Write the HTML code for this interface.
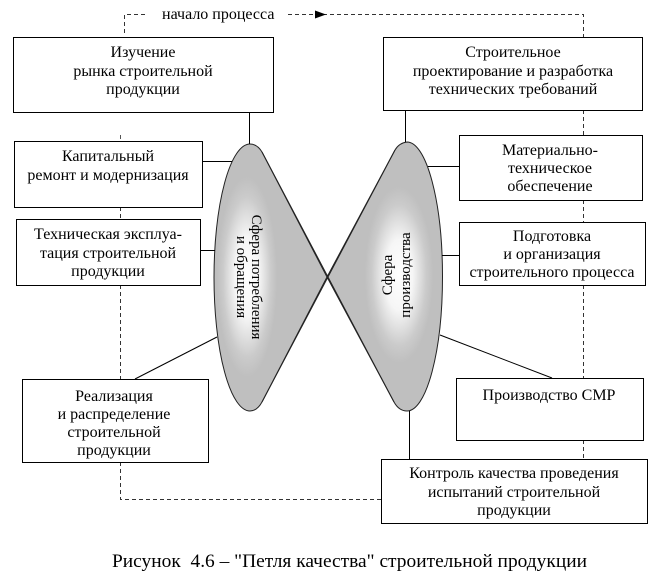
<!DOCTYPE html>
<html>
<head>
<meta charset="utf-8">
<style>
  html, body { margin:0; padding:0; background:#fff; }
  svg { display:block; }
  svg text { font-family: "Liberation Serif", "Times New Roman", "DejaVu Serif", "Noto Serif CJK SC", serif; fill:#000; }
</style>
</head>
<body>
<svg width="667" height="583" viewBox="0 0 667 583" xmlns="http://www.w3.org/2000/svg" font-family="'Liberation Serif', 'Times New Roman', 'DejaVu Serif', 'Noto Serif CJK SC', serif">
  <defs>
    <radialGradient id="gL" gradientUnits="userSpaceOnUse" cx="0" cy="0" r="1" gradientTransform="translate(247 277) scale(30 100)">
      <stop offset="0" stop-color="#ffffff"/>
      <stop offset="0.4" stop-color="#f6f6f6"/>
      <stop offset="0.8" stop-color="#cbcbcb"/>
      <stop offset="1" stop-color="#bfbfbf"/>
    </radialGradient>
    <radialGradient id="gR" gradientUnits="userSpaceOnUse" cx="0" cy="0" r="1" gradientTransform="translate(399 275) scale(34 88)">
      <stop offset="0" stop-color="#ffffff"/>
      <stop offset="0.4" stop-color="#f6f6f6"/>
      <stop offset="0.8" stop-color="#cbcbcb"/>
      <stop offset="1" stop-color="#bfbfbf"/>
    </radialGradient>
  </defs>

  <!-- Shapes -->
  <path d="M 250 144 Q 257 144 262 152 L 327 277 L 262 402 Q 257 411 250 411 A 36 133.5 0 0 1 250 144 Z"
        fill="url(#gL)" stroke="#222" stroke-width="1"/>
  <path d="M 407 142 Q 399 143 395 150 L 327 277 L 394 402 Q 399 411 407 411 A 35.5 134.5 0 0 0 407 142 Z"
        fill="url(#gR)" stroke="#222" stroke-width="1"/>
  <line x1="262" y1="152" x2="394" y2="402" stroke="#222" stroke-width="1"/>
  <line x1="395" y1="150" x2="262" y2="402" stroke="#222" stroke-width="1"/>

  <!-- Rotated labels -->
  <text transform="translate(252 277) rotate(90)" text-anchor="middle" font-size="15">Сфера потребления</text>
  <text transform="translate(237 277) rotate(90)" text-anchor="middle" font-size="15">и обращения</text>
  <text transform="translate(392 275) rotate(-90)" text-anchor="middle" font-size="15">Сфера</text>
  <text transform="translate(410 275) rotate(-90)" text-anchor="middle" font-size="15">производства</text>

  <!-- Dashed lines -->
  <g stroke="#333" stroke-width="1" stroke-dasharray="4 3" fill="none">
    <polyline points="124.5,33 124.5,14.5 147,14.5"/>
    <polyline points="288,14.5 583.5,14.5 583.5,37"/>
    <line x1="583.5" y1="110" x2="583.5" y2="135"/>
    <line x1="583.5" y1="200" x2="583.5" y2="222"/>
    <line x1="583.5" y1="285" x2="583.5" y2="378"/>
    <line x1="583.5" y1="440" x2="583.5" y2="459"/>
    <line x1="120.5" y1="207" x2="120.5" y2="219"/>
    <line x1="120.5" y1="285" x2="120.5" y2="379"/>
    <polyline points="120.5,462 120.5,499.5 381,499.5"/>
  </g>
  <line x1="120.5" y1="135" x2="120.5" y2="139" stroke="#555" stroke-width="1"/>
  <polygon points="315,10.5 326,14.5 315,18.5" fill="#000"/>
  <text x="162" y="19" font-size="16">начало процесса</text>

  <!-- Solid connectors -->
  <g stroke="#000" stroke-width="1" fill="none">
    <line x1="249.5" y1="112" x2="249.5" y2="144"/>
    <line x1="202" y1="161.5" x2="232" y2="161.5"/>
    <line x1="200" y1="250.5" x2="215" y2="250.5"/>
    <line x1="135" y1="379" x2="217" y2="337"/>
    <line x1="405.5" y1="110" x2="405.5" y2="142"/>
    <line x1="459" y1="166.5" x2="428" y2="166.5"/>
    <line x1="459" y1="255.5" x2="442" y2="255.5"/>
    <line x1="552" y1="378" x2="440" y2="335"/>
    <line x1="409.5" y1="459" x2="409.5" y2="411"/>
  </g>

  <!-- Boxes -->
  <g fill="#fff" stroke="#000" stroke-width="1">
    <rect x="13.5" y="37.5" width="260" height="75"/>
    <rect x="14.5" y="141.5" width="188" height="66"/>
    <rect x="16.5" y="219.5" width="184" height="66"/>
    <rect x="22.5" y="379.5" width="186" height="83"/>
    <rect x="383.5" y="37.5" width="259" height="73"/>
    <rect x="459.5" y="135.5" width="183" height="65"/>
    <rect x="459.5" y="222.5" width="186" height="63"/>
    <rect x="456.5" y="378.5" width="187" height="62"/>
    <rect x="381.5" y="459.5" width="266" height="64"/>
  </g>

  <!-- Box texts -->
  <g font-size="16" text-anchor="middle">
    <text x="143" y="57">Изучение</text>
    <text x="143" y="76">рынка строительной</text>
    <text x="143" y="94">продукции</text>

    <text x="108" y="161">Капитальный</text>
    <text x="108" y="180">ремонт и модернизация</text>

    <text x="108" y="239">Техническая эксплуа-</text>
    <text x="108" y="258">тация строительной</text>
    <text x="108" y="276">продукции</text>

    <text x="114" y="401">Реализация</text>
    <text x="114" y="419">и распределение</text>
    <text x="114" y="437">строительной</text>
    <text x="114" y="455">продукции</text>

    <text x="513" y="57">Строительное</text>
    <text x="513" y="76">проектирование и разработка</text>
    <text x="513" y="94">технических требований</text>

    <text x="550" y="155">Материально-</text>
    <text x="550" y="173">техническое</text>
    <text x="550" y="191">обеспечение</text>

    <text x="552" y="241">Подготовка</text>
    <text x="552" y="259">и организация</text>
    <text x="552" y="277">строительного процесса</text>

    <text x="549" y="400">Производство СМР</text>

    <text x="514" y="478">Контроль качества проведения</text>
    <text x="514" y="497">испытаний строительной</text>
    <text x="514" y="515">продукции</text>
  </g>

  <!-- Caption -->
  <text x="112" y="567" font-size="19" textLength="475" lengthAdjust="spacingAndGlyphs" xml:space="preserve">Рисунок  4.6 – "Петля качества" строительной продукции</text>
</svg>
</body>
</html>
